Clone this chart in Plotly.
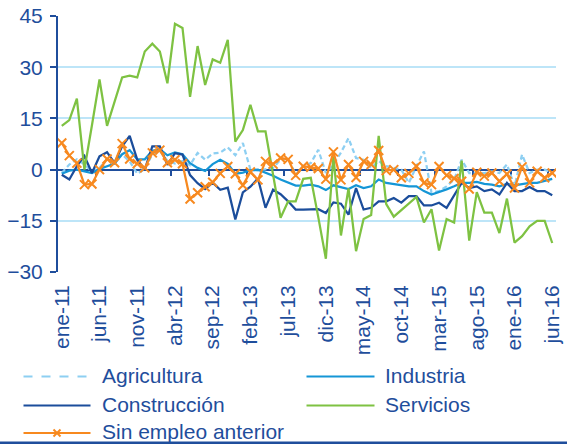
import plotly.graph_objects as go

# ---------------- data ----------------
abbr = ["ene", "feb", "mar", "abr", "may", "jun", "jul", "ago", "sep", "oct", "nov", "dic"]
months = [f"{abbr[m % 12]}-{11 + m // 12}" for m in range(66)]  # ene-11 ... jun-16
tick_labels = ["ene-11", "jun-11", "nov-11", "abr-12", "sep-12", "feb-13", "jul-13",
               "dic-13", "may-14", "oct-14", "mar-15", "ago-15", "ene-16", "jun-16"]
y_ticks = [-30, -15, 0, 15, 30, 45]

agricultura = [-1.0, 1.5, 3.0, 1.5, -0.5, 0.5, 3.1, 2.5, 4.4, 2.4, -1.2, 0.2, 4.5, 5.5, 2.6, 1.8,
               2.5, 1.3, 4.9, 2.9, 4.7, 5.0, 6.5, 4.2, 7.8, 0.0, -0.3, 0.2, 0.5, 2.9, 3.2, -1.5,
               1.0, 1.9, 5.8, -1.0, 1.5, 5.0, 9.2, 3.4, 2.9, 0.5, 2.5, 1.0, 0.5, 0.0, -3.9, 1.0,
               5.3, -6.8, -6.3, -4.9, -2.9, 2.9, -1.0, -1.0, -1.0, -0.5, -1.0, 1.5, -4.9, 4.4,
               -1.0, 0.0, 0.0, -1.0]
industria = [-1.2, -0.3, 0.0, -0.5, -1.0, 0.2, 1.1, 1.8, 4.5, 5.7, 3.0, 3.0, 5.5, 6.0, 4.2, 5.0,
             4.5, 1.9, 0.5, -0.4, 1.6, 2.9, 1.7, -1.2, -0.9, -0.2, 0.0, -0.8, -1.8, -2.9, -3.9, -4.7,
             -4.7, -4.4, -4.9, -6.0, -4.6, -5.2, -5.7, -4.6, -5.4, -4.9, -2.9, -3.9, -4.3, -4.5, -4.9, -4.9,
             -6.3, -7.3, -6.6, -5.8, -4.9, -3.9, -3.9, -3.6, -4.2, -4.4, -4.9, -4.2, -4.6, -4.2,
             -3.9, -3.9, -3.4, -2.7]
construccion = [-1.5, -2.9, 1.0, 4.0, -1.0, 3.9, 5.1, 1.9, 6.8, 9.9, 2.9, 0.0, 6.8, 6.8, 1.4, 4.8,
                4.4, -1.6, -4.0, -5.7, -3.8, -5.9, -5.3, -14.6, -6.7, -5.0, -2.6, -11.2, -5.9, -7.2, -9.3, -11.7,
                -11.7, -11.6, -11.6, -12.7, -9.6, -10.0, -13.2, -5.4, -11.7, -11.2, -9.3, -9.3, -8.3, -9.7, -7.8, -7.8,
                -10.5, -10.5, -9.7, -11.2, -7.5, -3.9, -5.4, -4.9, -6.3, -5.8, -7.3, -3.9, -6.3, -6.3,
                -5.1, -6.3, -6.3, -7.5]
servicios = [12.8, 14.5, 20.8, 0.0, 13.0, 26.4, 12.8, 20.0, 27.0, 27.5, 27.0, 34.6, 36.9, 34.6, 25.3, 42.7,
             41.5, 21.3, 36.2, 24.8, 32.3, 31.3, 38.0, 8.2, 11.6, 19.0, 11.2, 11.2, -1.5, -14.1, -9.3, -9.3,
             -2.7, -2.4, -14.0, -26.1, 3.9, -19.3, -5.5, -23.9, -14.5, -13.3, 9.9, -10.1, -13.8, -11.9, -10.0, -8.0,
             -15.5, -11.6, -23.7, -14.5, -15.5, 2.6, -20.8, -6.6, -12.6, -12.6, -18.6, -8.5, -21.4, -19.5,
             -16.6, -15.0, -15.0, -21.5]
sin_empleo = [7.8, 4.1, 1.9, -4.4, -4.2, 0.0, 3.1, 2.0, 7.6, 3.1, 1.7, 0.5, 4.9, 5.7, 2.0, 2.9,
              1.7, -8.6, -6.8, -5.0, -3.7, -1.1, 0.9, -1.2, -4.6, -0.7, -3.0, 2.4, 1.6, 3.4, 3.0, -1.7,
              1.0, 0.7, 0.3, -2.8, 5.2, -3.0, 1.5, -2.3, 2.4, 1.5, 5.6, -0.3, 0.0, -2.4, -1.1, 1.0,
              -3.9, -4.4, 0.9, -1.7, -2.6, -3.4, -5.7, -0.8, -1.9, -1.0, -3.4, -1.3, -5.4, 0.8,
              -3.9, -0.5, -2.4, -1.0]

names = ["Agricultura", "Industria", "Construcción", "Servicios", "Sin empleo anterior"]

# ---------------- style ----------------
C_AGR = "#8DCFF2"
C_IND = "#1596D6"
C_CON = "#1B4D9B"
C_SER = "#7EC242"
C_SIN = "#F7891F"
C_AX = "#1F4E9C"
C_GRID = "#BDE5F8"
FONT = "Liberation Sans, Arial, sans-serif"

W_FIG, H_FIG = 567, 444
L, R, T, B = 58, 11, 16, 172
PW, PH = W_FIG - L - R, H_FIG - T - B


def px(x):
    return (x - L) / PW


def py(y):
    return (T + PH - y) / PH


fig = go.Figure()
series = [
    (agricultura, C_AGR, "5px,3px"),
    (industria, C_IND, "solid"),
    (construccion, C_CON, "solid"),
    (servicios, C_SER, "solid"),
]
for (vals, col, dash), name in zip(series, names[:4]):
    fig.add_trace(go.Scatter(x=months, y=vals, name=name, mode="lines",
                             line=dict(color=col, width=2.25, dash=dash)))
fig.add_trace(go.Scatter(x=months, y=sin_empleo, name=names[4], mode="lines+markers",
                         line=dict(color=C_SIN, width=2.25),
                         marker=dict(symbol="x-thin", size=9, color=C_SIN,
                                     line=dict(width=2, color=C_SIN))))
# helper trace so the zero-crossing axis is drawn
fig.add_trace(go.Scatter(x=[0], y=[None], xaxis="x2", showlegend=False, hoverinfo="skip"))

# ---------------- manual legend ----------------
shapes = []
annotations = []
legend_items = [
    (names[0], C_AGR, "dash", 23.5, 90.5, 99.5, 376.5),
    (names[1], C_IND, "solid", 306.5, 374.5, 382.5, 376.5),
    (names[2], C_CON, "solid", 23.5, 90.5, 99.5, 405.5),
    (names[3], C_SER, "solid", 306.5, 374.5, 382.5, 405.5),
    (names[4], C_SIN, "solid", 23.5, 90.5, 99.5, 433),
]
for text, col, dash, x0, x1, xt, yc in legend_items:
    shapes.append(dict(type="line", xref="paper", yref="paper",
                       x0=px(x0), x1=px(x1), y0=py(yc), y1=py(yc),
                       line=dict(color=col, width=2, dash=dash)))
    annotations.append(dict(text=text, xref="paper", yref="paper", x=px(xt), y=py(yc - 1.5),
                            xanchor="left", yanchor="middle", showarrow=False,
                            font=dict(family=FONT, size=21, color=C_AX)))
# X marker in the "Sin empleo anterior" sample
mx, my, s = 57, 433, 3.5
for dx in (-s, s):
    shapes.append(dict(type="line", xref="paper", yref="paper",
                       x0=px(mx - s), x1=px(mx + s), y0=py(my - dx), y1=py(my + dx),
                       line=dict(color=C_SIN, width=2)))
# bottom bar
shapes.append(dict(type="rect", xref="paper", yref="paper",
                   x0=px(0), x1=px(W_FIG), y0=py(444), y1=py(441.5),
                   line=dict(width=0), fillcolor=C_AX))

fig.update_layout(
    width=W_FIG, height=H_FIG,
    margin=dict(l=L, r=R, t=T, b=B, pad=0, autoexpand=False),
    paper_bgcolor="white", plot_bgcolor="white",
    showlegend=False,
    font=dict(family=FONT, size=21, color=C_AX),
    xaxis=dict(type="category", range=[-0.5, 65.5], tickmode="array", automargin=False,
               tickvals=tick_labels, ticktext=tick_labels, tickangle=-90,
               ticks="", showgrid=False, showline=False, zeroline=False,
               tickfont=dict(family=FONT, size=21, color=C_AX), ticklabelstandoff=8),
    xaxis2=dict(overlaying="x", anchor="free", position=0.4, range=[-0.5, 65.5],
                automargin=False,
                tickmode="array", tickvals=[4.5 + 5 * k for k in range(13)],
                showticklabels=False, ticks="outside", ticklen=5, tickwidth=2,
                tickcolor=C_AX, showline=True, linecolor=C_AX, linewidth=2,
                showgrid=False, zeroline=False, layer="below traces"),
    yaxis=dict(range=[-30, 45], tickmode="array", tickvals=y_ticks, automargin=False,
               ticks="outside", ticklen=6, tickwidth=2, tickcolor=C_AX,
               showline=True, linecolor=C_AX, linewidth=2,
               showgrid=True, gridcolor=C_GRID, gridwidth=2, zeroline=False,
               tickfont=dict(family=FONT, size=21, color=C_AX), ticklabelstandoff=3,
               layer="below traces"),
    shapes=shapes,
    annotations=annotations,
)

fig.write_html("out.html", config={"displayModeBar": False},
               post_script="document.body.style.margin='0';document.body.style.overflow='hidden';")
